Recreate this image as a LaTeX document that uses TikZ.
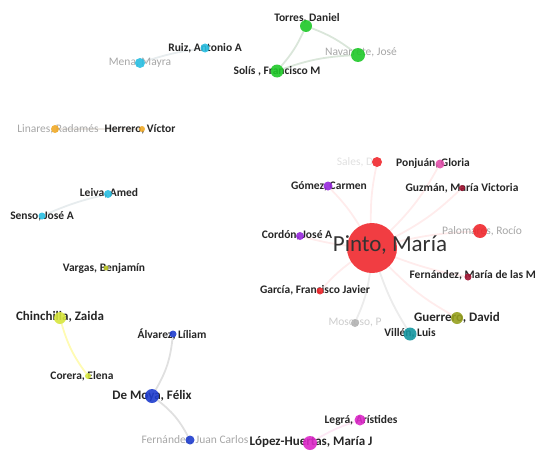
\documentclass[tikz,border=0pt]{standalone}
\usepackage{fontspec}
\setsansfont{Carlito}
\usetikzlibrary{backgrounds}

\definecolor{vgreen}{RGB}{30,200,40}
\definecolor{vcyan}{RGB}{40,190,225}
\definecolor{vorange}{RGB}{240,170,40}
\definecolor{volive}{RGB}{190,200,40}
\definecolor{vyellow}{RGB}{215,230,60}
\definecolor{vblue}{RGB}{30,60,205}
\definecolor{vmagenta}{RGB}{220,40,200}
\definecolor{vred}{RGB}{240,40,45}
\definecolor{vpink}{RGB}{225,80,170}
\definecolor{vpurple}{RGB}{150,40,220}
\definecolor{vdarkred}{RGB}{160,20,50}
\definecolor{vteal}{RGB}{20,150,160}
\definecolor{vkhaki}{RGB}{150,160,30}

\begin{document}
\begin{tikzpicture}[
  x=1pt, y=-1pt,
  author/.style={circle, inner sep=0pt, fill=#1, fill opacity=0.9},
  tag/.style={font=\sffamily\bfseries\fontsize{11.5}{12}\selectfont, text=black!85, inner sep=0pt},
  bigtag/.style={tag, font=\sffamily\bfseries\fontsize{13}{14}\selectfont},
  faint/.style={font=\sffamily\fontsize{11.5}{12}\selectfont, text=black!35, inner sep=0pt},
  link/.style={line width=1.8pt, draw=#1, opacity=0.6}
]
\useasboundingbox (0,0) rectangle (537,452);

% labels
\node[tag] (torres-l) at (307,18) {Torres, Daniel};
\node[faint] (navarrete-l) at (361,52) {Navarrete, José};
\node[tag] (solis-l) at (277,71) {Solís , Francisco M};
\node[tag] (ruiz-l) at (205,48) {Ruiz, Antonio A};
\node[faint] (mena-l) at (140,63) {Mena, Mayra};
\node[faint] (linares-l) at (58,129) {Linares, Radamés};
\node[tag] (herrero-l) at (140,129) {Herrero, Víctor};
\node[tag] (leiva-l) at (109,193) {Leiva, Amed};
\node[tag] (senso-l) at (42,216) {Senso, José A};
\node[tag] (vargas-l) at (104,268) {Vargas, Benjamín};
\node[bigtag] (chinchilla-l) at (60,317) {Chinchilla, Zaida};
\node[tag] (corera-l) at (82,376) {Corera, Elena};
\node[tag] (alvarez-l) at (172,334) {Álvarez, Líliam};
\node[bigtag] (demoya-l) at (152,396) {De Moya, Félix};
\node[faint] (fernandezjc-l) at (195,440) {Fernández, Juan Carlos};
\node[bigtag] (lopez-l) at (311,442) {López-Huertas, María J};
\node[tag] (legra-l) at (361,420) {Legrá, Arístides};
\node[faint, text=black!12] (redtop-l) at (355,162) {Sales, D};
\node[tag] (ponjuan-l) at (433,163) {Ponjuán, Gloria};
\node[tag] (gomez-l) at (329,186) {Gómez, Carmen};
\node[tag] (guzman-l) at (462,188) {Guzmán, María Victoria};
\node[tag] (cordon-l) at (297,235) {Cordón, José A};
\node[faint] (palomares-l) at (482,231) {Palomares, Rocío};
\node[tag, anchor=east] (fernandezmm-l) at (536,275) {Fernández, María de las M};
\node[tag] (garcia-l) at (315,290) {García, Francisco Javier};
\node[bigtag] (guerrero-l) at (457,318) {Guerrero, David};
\node[tag] (villen-l) at (410,333) {Villén, Luis};
\node[faint, text=black!20] (moscoso-l) at (355,323) {Moscoso, P};

% authors
\node[author=vgreen, minimum size=12] (torres) at (306,26) {};
\node[author=vgreen, minimum size=14] (navarrete) at (358,55) {};
\node[author=vgreen, minimum size=13] (solis) at (277,71) {};
\node[author=vcyan, minimum size=9] (ruiz) at (205,48) {};
\node[author=vcyan, minimum size=10] (mena) at (140,63) {};
\node[author=vorange, minimum size=8] (linares) at (55,129) {};
\node[author=vorange, minimum size=6] (herrero) at (142,129) {};
\node[author=vcyan, minimum size=8] (leiva) at (108,194) {};
\node[author=vcyan, minimum size=7] (senso) at (42,216) {};
\node[author=volive, minimum size=5] (vargas) at (106,268) {};
\node[author=vyellow, minimum size=12] (chinchilla) at (60,318) {};
\node[author=vyellow, minimum size=6] (corera) at (88,376) {};
\node[author=vblue, minimum size=7] (alvarez) at (173,334) {};
\node[author=vblue, minimum size=14] (demoya) at (152,396) {};
\node[author=vblue, minimum size=9] (fernandezjc) at (190,440) {};
\node[author=vmagenta, minimum size=14] (lopez) at (310,443) {};
\node[author=vmagenta, minimum size=11] (legra) at (360,420) {};
\node[author=vred, minimum size=50] (pinto) at (372,248) {};
\node[author=vred, minimum size=10] (redtop) at (377,162) {};
\node[author=vpink, minimum size=9] (ponjuan) at (440,164) {};
\node[author=vpurple, minimum size=9] (gomez) at (328,186) {};
\node[author=vdarkred, minimum size=6] (guzman) at (462,188) {};
\node[author=vpurple, minimum size=8] (cordon) at (300,236) {};
\node[author=vred, minimum size=14] (palomares) at (480,231) {};
\node[author=vdarkred, minimum size=7] (fernandezmm) at (468,277) {};
\node[author=vred, minimum size=7] (garcia) at (320,291) {};
\node[author=vkhaki, minimum size=12] (guerrero) at (457,318) {};
\node[author=vteal, minimum size=13] (villen) at (410,334) {};
\node[author=gray!60, minimum size=8] (moscoso) at (355,323) {};

\node[font=\sffamily\fontsize{23}{24}\selectfont, text=black!80, inner sep=0pt] (pinto-l) at (390,245) {Pinto, María};

% co-authorship links
\begin{scope}[on background layer]
\draw[link=green!20!gray!40] (torres) to[bend left=8] (solis);
\draw[link=green!20!gray!40] (torres) to[bend left=8] (navarrete);
\draw[link=green!20!gray!40] (solis) to[bend left=8] (navarrete);
\draw[link=cyan!20!gray!30] (mena) to[bend left=5] (ruiz);
\draw[link=orange!20!gray!30] (linares) -- (herrero);
\draw[link=cyan!20!gray!30] (senso) to[bend left=5] (leiva);
\draw[link=yellow!50] (chinchilla) to[bend right=10] (corera);
\draw[link=gray!40] (alvarez) to[bend left=12] (demoya);
\draw[link=gray!40] (demoya) to[bend left=12] (fernandezjc);
\draw[link=magenta!15] (lopez) to[bend left=6] (legra);
\draw[link=red!12] (redtop) -- (redtop-l);
\draw[link=red!12] (pinto) to[bend left=6] (redtop);
\draw[link=red!12] (pinto) to[bend right=8] (ponjuan);
\draw[link=red!12] (pinto) to[bend right=6] (gomez);
\draw[link=red!12] (pinto) to[bend right=8] (guzman);
\draw[link=red!12] (pinto) to[bend left=4] (cordon);
\draw[link=red!12] (pinto) to[bend left=5] (palomares);
\draw[link=red!12] (pinto) to[bend right=5] (fernandezmm);
\draw[link=red!12] (pinto) to[bend right=6] (garcia);
\draw[link=red!12] (pinto) to[bend right=8] (guerrero);
\draw[link=gray!25] (pinto) to[bend right=6] (villen);
\draw[link=gray!25] (pinto) to[bend left=8] (moscoso);
\end{scope}
\end{tikzpicture}
\end{document}
